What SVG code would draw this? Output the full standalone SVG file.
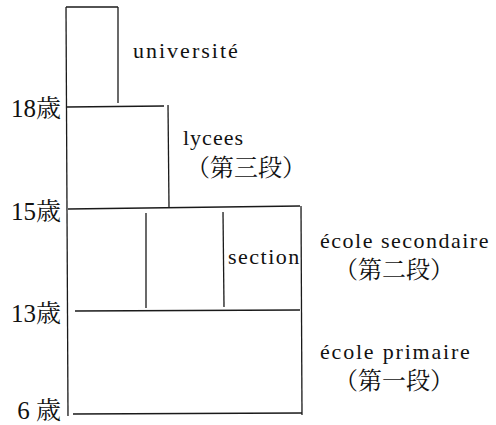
<svg xmlns="http://www.w3.org/2000/svg" width="496" height="425" viewBox="0 0 496 425">
<style>
.ln{stroke:#1a1a1a;stroke-width:1.3;fill:none}
.lat{font-size:22px;fill:#111}
.age{font-size:25px;fill:#111;text-anchor:end}
.cjk{font-size:24px;fill:#111}
</style>
<rect width="496" height="425" fill="#fff"/>
<g id="connectors">
<line class="ln" x1="66" y1="7" x2="68" y2="416"/>
<line class="ln" x1="66" y1="7" x2="118" y2="7"/>
</g>
<g id="universite">
<line class="ln" x1="118" y1="7" x2="118" y2="103"/>
<text class="lat" x="133" y="58" font-family="Liberation Serif" letter-spacing="2">université</text>
</g>
<g id="lycees">
<line class="ln" x1="67" y1="107" x2="164" y2="106"/>
<line class="ln" x1="168" y1="105" x2="169" y2="207"/>
<text class="lat" x="183" y="145" font-family="Liberation Serif" letter-spacing="1">lycees</text>
<text class="cjk" x="186" y="176" font-family="Noto Serif CJK JP">（第三段）</text>
</g>
<g id="ecole-secondaire">
<line class="ln" x1="68" y1="209" x2="300" y2="206"/>
<line class="ln" x1="301" y1="206" x2="302" y2="415"/>
<line class="ln" x1="146" y1="213" x2="146" y2="308"/>
<line class="ln" x1="223" y1="212" x2="224" y2="307"/>
<text class="lat" x="228" y="264" font-family="Liberation Serif" letter-spacing="1.5">section</text>
<text class="lat" x="320" y="248" font-family="Liberation Serif" letter-spacing="1.5">école secondaire</text>
<text class="cjk" x="334" y="278" font-family="Noto Serif CJK JP">（第二段）</text>
</g>
<g id="ecole-primaire">
<line class="ln" x1="75" y1="311" x2="300" y2="310"/>
<line class="ln" x1="73" y1="414" x2="302" y2="413"/>
<text class="lat" x="320" y="359" font-family="Liberation Serif" letter-spacing="1.8">école primaire</text>
<text class="cjk" x="334" y="389" font-family="Noto Serif CJK JP">（第一段）</text>
</g>
<g id="ages">
<text class="age" x="61" y="117" font-family="Liberation Serif, Noto Serif CJK JP, serif">18歳</text>
<text class="age" x="61" y="220" font-family="Liberation Serif, Noto Serif CJK JP, serif">15歳</text>
<text class="age" x="61" y="322" font-family="Liberation Serif, Noto Serif CJK JP, serif">13歳</text>
<text class="age" x="61" y="419" font-family="Liberation Serif, Noto Serif CJK JP, serif">6 歳</text>
</g>
</svg>
